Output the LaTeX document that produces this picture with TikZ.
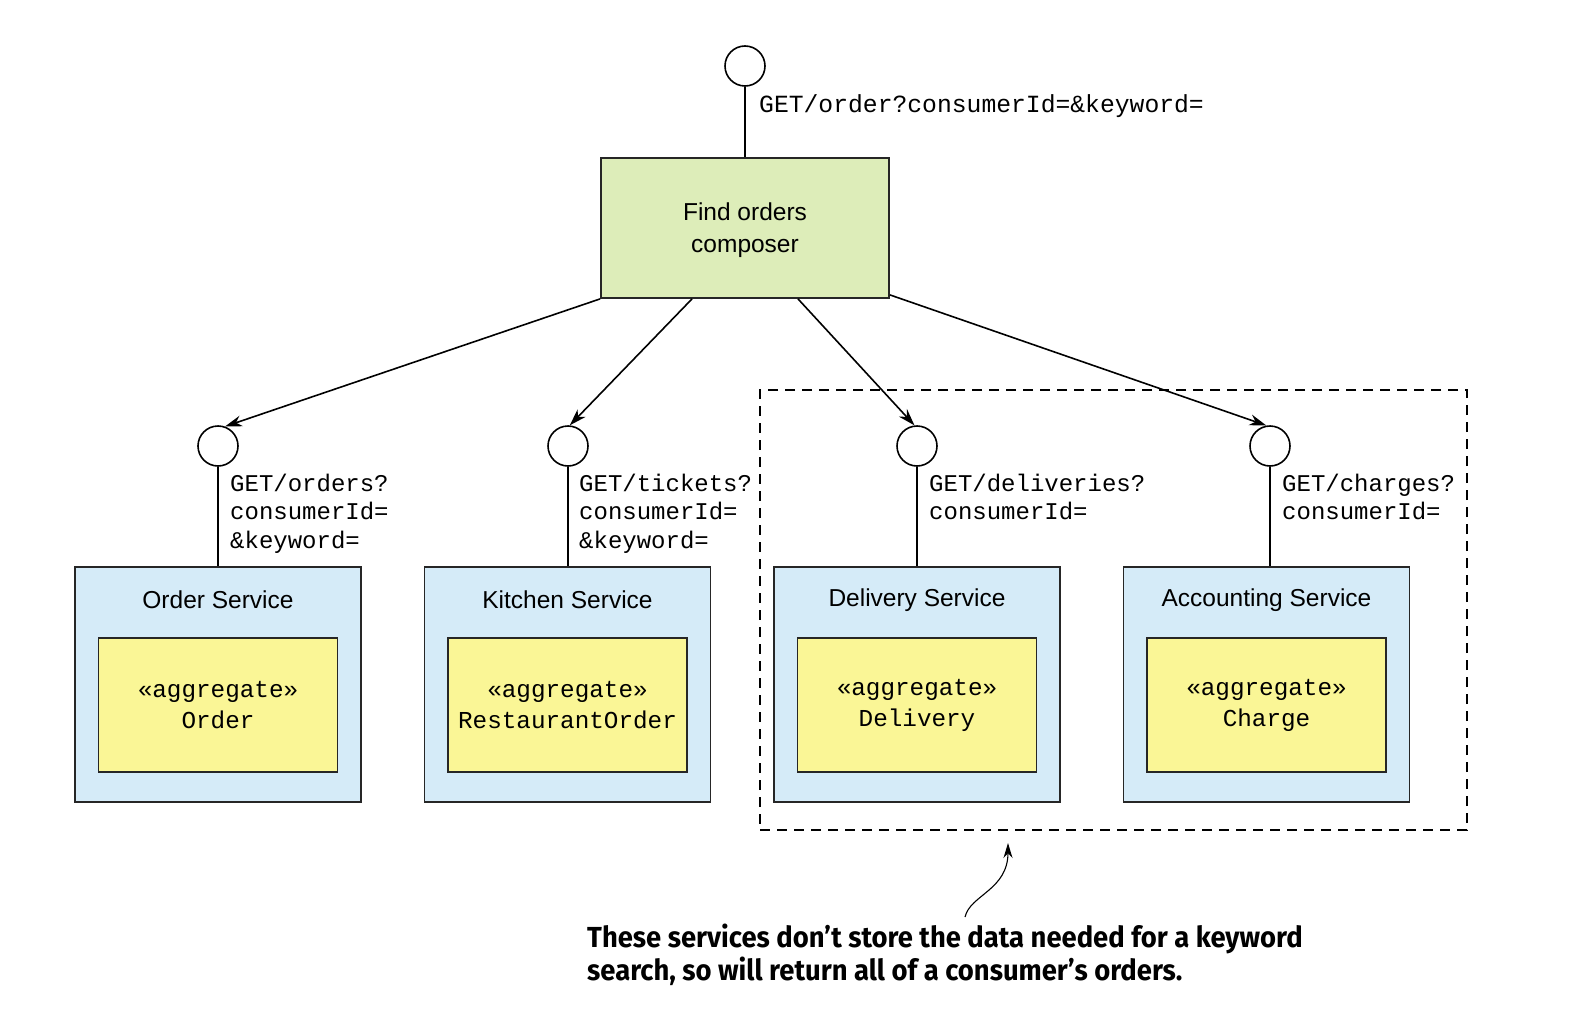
\documentclass[tikz,border=0pt]{standalone}
\usepackage{fontspec}
\setmainfont{Liberation Sans}
\newfontfamily\monofont{Liberation Mono}
\newfontfamily\notefont[FakeStretch=0.945]{Fira Sans}
\usetikzlibrary{arrows.meta}
\definecolor{compgreen}{RGB}{221,237,185}
\definecolor{svcblue}{RGB}{213,235,248}
\definecolor{agyellow}{RGB}{250,246,150}
\begin{document}
\begin{tikzpicture}[x=1pt,y=-1pt,
  box/.style={draw=black!85, line width=1.8pt, inner sep=0pt},
  iface/.style={circle, draw, line width=1.6pt, minimum size=40pt, inner sep=0pt},
  svc/.style={box, fill=svcblue, minimum width=286pt, minimum height=235pt},
  agg/.style={box, fill=agyellow, minimum width=239pt, minimum height=134pt, font=\fontsize{24.3}{31}\monofont, align=center},
  svctitle/.style={font=\fontsize{24.5}{32}\selectfont, inner sep=0pt},
  lbl/.style={font=\fontsize{24}{28.5}\monofont, align=left, anchor=west, inner sep=0pt},
  conn/.style={line width=1.6pt},
  arr/.style={line width=1.6pt, -{Stealth[length=17pt,width=11pt]}},
  grpbox/.style={draw, line width=1.5pt, dash pattern=on 10pt off 7pt, minimum width=707pt, minimum height=440pt, inner sep=0pt},
]
\useasboundingbox (0,0) rectangle (1582,1014);

% top interface and composer
\node[iface] (top) at (745,66) {};
\node[box, fill=compgreen, minimum width=288pt, minimum height=140pt, font=\fontsize{24.5}{32.3}\selectfont, align=center, text depth=1pt] (comp) at (745,228) {Find orders\\composer};
\draw[conn] (top) -- (comp);
\node[lbl, font=\fontsize{24.7}{28.5}\monofont] (toplbl) at (759,106) {GET/order?consumerId=\&keyword=};

% dashed group
\node[grpbox] (grp) at (1113.5,610) {};

% interfaces
\node[iface] (c1) at (218,446) {};
\node[iface] (c2) at (568,446) {};
\node[iface] (c3) at (917,446) {};
\node[iface] (c4) at (1270,446) {};

% services
\node[svc] (s1) at (218,684.5) {};
\node[svc] (s2) at (567.5,684.5) {};
\node[svc] (s3) at (917,684.5) {};
\node[svc] (s4) at (1266.5,684.5) {};

\node[svctitle] (t1) at (218,600) {Order Service};
\node[svctitle] (t2) at (567.5,600) {Kitchen Service};
\node[svctitle] (t3) at (917,600) {Delivery Service};
\node[svctitle] (t4) at (1266.5,600) {Accounting Service};

\node[agg] (a1) at (218,705) {«aggregate»\\Order};
\node[agg] (a2) at (567.5,705) {«aggregate»\\RestaurantOrder};
\node[agg] (a3) at (917,705) {«aggregate»\\Delivery};
\node[agg] (a4) at (1266.5,705) {«aggregate»\\Charge};

% interface stems
\draw[conn] (c1) -- (c1 |- s1.north);
\draw[conn] (c2) -- (c2 |- s2.north);
\draw[conn] (c3) -- (c3 |- s3.north);
\draw[conn] (c4) -- (c4 |- s4.north);

% labels
\node[lbl] (l1) at (230,513.5) {GET/orders?\\consumerId=\\\&keyword=};
\node[lbl] (l2) at (579,513.5) {GET/tickets?\\consumerId=\\\&keyword=};
\node[lbl] (l3) at (929,497) {GET/deliveries?\\consumerId=};
\node[lbl] (l4) at (1282,497) {GET/charges?\\consumerId=};

% arrows from composer
\draw[arr] (comp.south west) -- (c1.70);
\draw[arr] ([xshift=-53pt]comp.south) -- (c2.85);
\draw[arr] ([xshift=53pt]comp.south) -- (c3.97);
\draw[arr] ([yshift=4pt]comp.south east) -- (c4.100);

% note
\coordinate (cs) at (965,917);
\coordinate (tip) at (1008,843);
\draw[line width=1.1pt, -{Stealth[length=15pt,width=9pt]}] (cs) .. controls (970,895) and (1008,890) .. (tip);
\node[font=\fontsize{29}{32.5}\notefont\bfseries, align=left, anchor=west, inner sep=0pt] (note) at (587,955) {These services don’t store the data needed for a keyword\\search, so will return all of a consumer’s orders.};
\end{tikzpicture}
\end{document}
